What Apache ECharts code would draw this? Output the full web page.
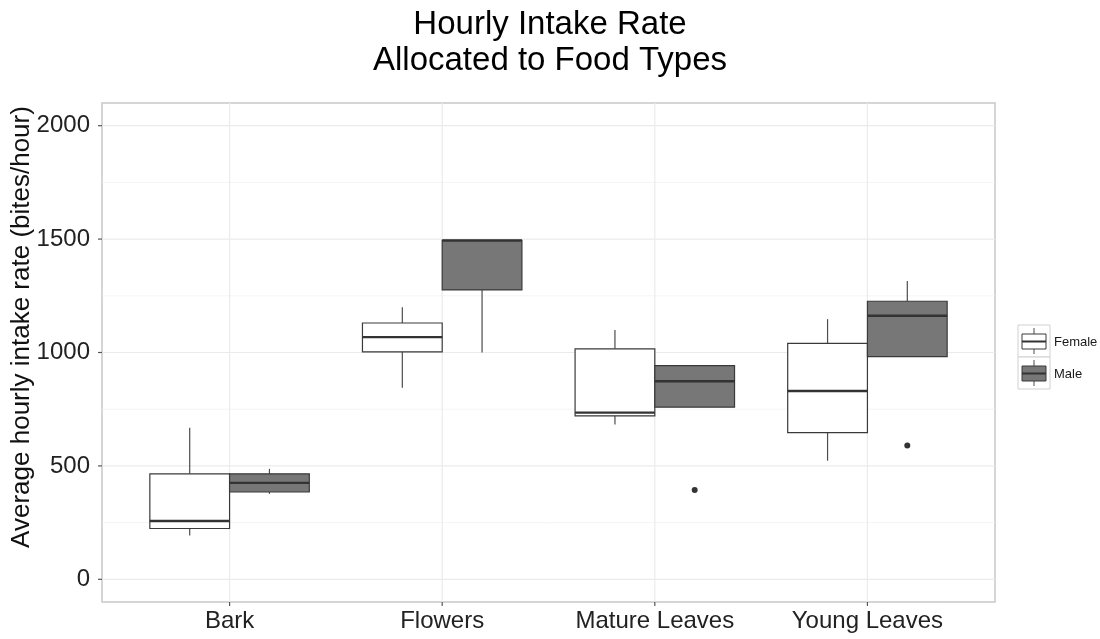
<!DOCTYPE html>
<html>
<head>
<meta charset="utf-8">
<title>Hourly Intake Rate</title>
<script src="https://cdn.jsdelivr.net/npm/echarts@6/dist/echarts.min.js"></script>
<style>
  html, body { margin: 0; padding: 0; background: #ffffff; }
  #chart { width: 1100px; height: 639px; }
</style>
</head>
<body>
<div id="chart"></div>
<script>
// Food types along the x axis (positions 1..4)
const categories = ['Bark', 'Flowers', 'Mature Leaves', 'Young Leaves'];

// Five-number summaries per food type: [lower whisker, Q1, median, Q3, upper whisker]
const femaleStats = [
  [193, 224, 257, 465, 668],
  [845, 1003, 1068, 1130, 1199],
  [683, 721, 735, 1016, 1099],
  [523, 647, 830, 1040, 1147]
];
const maleStats = [
  [377, 385, 425, 465, 487],
  [1000, 1276, 1494, 1494, 1494],
  [759, 759, 873, 942, 942],
  [982, 982, 1162, 1226, 1315]
];

// Outlying observations: [food type index, value]
const maleOutliers = [
  [2, 394],
  [3, 590]
];

// Axis ticks and grid
const yTicks = [0, 500, 1000, 1500, 2000];
const yMinorGrid = [250, 750, 1250, 1750];

const FONT = "'Liberation Sans', Arial, Helvetica, sans-serif";
const BOX_W = 0.375;          // width of one box in category units
const DODGE = BOX_W / 2;      // offset of each group from the category centre
const TICK_LEN = 4;
const TICK_STYLE = { stroke: '#555555', lineWidth: 1.2 };

function groupData(stats, shift) {
  return stats.map((s, i) => [i + 1 + shift].concat(s));
}

function renderBox(fill) {
  return function (params, api) {
    const x = api.value(0);
    const lo = api.value(1), q1 = api.value(2), med = api.value(3),
          q3 = api.value(4), hi = api.value(5);
    const half = api.size([BOX_W, 0])[0] / 2;
    const pLo = api.coord([x, lo]);
    const pQ1 = api.coord([x, q1]);
    const pMed = api.coord([x, med]);
    const pQ3 = api.coord([x, q3]);
    const pHi = api.coord([x, hi]);
    const whisk = { stroke: '#4d4d4d', lineWidth: 1.2 };
    return {
      type: 'group',
      children: [
        { type: 'line', shape: { x1: pQ3[0], y1: pQ3[1], x2: pHi[0], y2: pHi[1] }, style: whisk },
        { type: 'line', shape: { x1: pQ1[0], y1: pQ1[1], x2: pLo[0], y2: pLo[1] }, style: whisk },
        { type: 'rect',
          shape: { x: pQ3[0] - half, y: pQ3[1], width: half * 2, height: pQ1[1] - pQ3[1] },
          style: { fill: fill, stroke: '#3a3a3a', lineWidth: 1.2 } },
        { type: 'line',
          shape: { x1: pMed[0] - half, y1: pMed[1], x2: pMed[0] + half, y2: pMed[1] },
          style: { stroke: '#333333', lineWidth: 2.4 } }
      ]
    };
  };
}

// horizontal grid line across the panel, plus an outside tick for major lines
function renderHGrid(width, withTick) {
  return function (params, api) {
    const cs = params.coordSys;
    const y = api.coord([1, api.value(0)])[1];
    const children = [
      { type: 'line', shape: { x1: cs.x, y1: y, x2: cs.x + cs.width, y2: y },
        style: { stroke: width > 1 ? '#ebebeb' : '#f1f1f1', lineWidth: width } }
    ];
    if (withTick) {
      children.push({ type: 'line', shape: { x1: cs.x - TICK_LEN, y1: y, x2: cs.x, y2: y }, style: TICK_STYLE });
    }
    return { type: 'group', children: children };
  };
}

// vertical grid line at each food type, plus its outside tick
function renderVGrid(params, api) {
  const cs = params.coordSys;
  const x = api.coord([api.value(0), 0])[0];
  const bottom = cs.y + cs.height;
  return {
    type: 'group',
    children: [
      { type: 'line', shape: { x1: x, y1: cs.y, x2: x, y2: bottom },
        style: { stroke: '#ebebeb', lineWidth: 1.2 } },
      { type: 'line', shape: { x1: x, y1: bottom, x2: x, y2: bottom + TICK_LEN }, style: TICK_STYLE }
    ]
  };
}

const chart = echarts.init(document.getElementById('chart'), null, { renderer: 'canvas' });

const option = {
  backgroundColor: '#ffffff',
  animation: false,
  textStyle: { fontFamily: FONT },
  title: {
    text: 'Hourly Intake Rate\nAllocated to Food Types',
    left: 'center',
    top: 7,
    padding: 0,
    textStyle: { fontFamily: FONT, fontSize: 33, fontWeight: 'normal', color: '#000000', lineHeight: 36 }
  },
  grid: {
    left: 102, top: 103, width: 893, height: 499,
    show: true, borderColor: '#c8c8c8', borderWidth: 1.5, backgroundColor: '#ffffff'
  },
  xAxis: {
    type: 'value',
    min: 0.4, max: 4.6,
    axisLine: { show: false, onZero: false },
    splitLine: { show: false },
    axisTick: { show: false },
    axisLabel: {
      customValues: categories.map((c, i) => i + 1),
      formatter: v => categories[Math.round(v) - 1],
      fontFamily: FONT, fontSize: 24, color: '#222222', margin: 7
    }
  },
  yAxis: {
    type: 'value',
    min: -100, max: 2100,
    axisLine: { show: false, onZero: false },
    splitLine: { show: false },
    axisTick: { show: false },
    axisLabel: { customValues: yTicks, formatter: v => String(v),
                 fontFamily: FONT, fontSize: 24, color: '#222222', margin: 12 }
  },
  graphic: [
    {
      type: 'text',
      x: 22, y: 327, rotation: Math.PI / 2,
      style: { text: 'Average hourly intake rate (bites/hour)', fontFamily: FONT, fontSize: 26,
               fill: '#111111', align: 'center', verticalAlign: 'middle' }
    },
    // legend keys
    { type: 'rect', shape: { x: 1018, y: 325, width: 32, height: 32 }, style: { fill: '#ffffff', stroke: '#d0d0d0', lineWidth: 1 } },
    { type: 'rect', shape: { x: 1018, y: 357, width: 32, height: 32 }, style: { fill: '#ffffff', stroke: '#d0d0d0', lineWidth: 1 } },
    { type: 'line', shape: { x1: 1034, y1: 328, x2: 1034, y2: 354 }, style: { stroke: '#4d4d4d', lineWidth: 1 } },
    { type: 'rect', shape: { x: 1022, y: 334, width: 24, height: 15 }, style: { fill: '#ffffff', stroke: '#3a3a3a', lineWidth: 1 } },
    { type: 'line', shape: { x1: 1022, y1: 341.5, x2: 1046, y2: 341.5 }, style: { stroke: '#333333', lineWidth: 2 } },
    { type: 'line', shape: { x1: 1034, y1: 360, x2: 1034, y2: 386 }, style: { stroke: '#4d4d4d', lineWidth: 1 } },
    { type: 'rect', shape: { x: 1022, y: 366, width: 24, height: 15 }, style: { fill: '#777777', stroke: '#3a3a3a', lineWidth: 1 } },
    { type: 'line', shape: { x1: 1022, y1: 373.5, x2: 1046, y2: 373.5 }, style: { stroke: '#333333', lineWidth: 2 } },
    { type: 'text', x: 1054, y: 342, style: { text: 'Female', fontFamily: FONT, fontSize: 13, fill: '#1a1a1a', verticalAlign: 'middle' } },
    { type: 'text', x: 1054, y: 374, style: { text: 'Male', fontFamily: FONT, fontSize: 13, fill: '#1a1a1a', verticalAlign: 'middle' } }
  ],
  series: [
    { type: 'custom', name: 'minor grid', silent: true, z: 0, clip: false, renderItem: renderHGrid(0.8, false),
      data: yMinorGrid.map(v => [v]), encode: { y: 0 } },
    { type: 'custom', name: 'major grid', silent: true, z: 0, clip: false, renderItem: renderHGrid(1.2, true),
      data: yTicks.map(v => [v]), encode: { y: 0 } },
    { type: 'custom', name: 'x grid', silent: true, z: 0, clip: false, renderItem: renderVGrid,
      data: categories.map((c, i) => [i + 1]), encode: { x: 0 } },
    { type: 'custom', name: 'Female', z: 2, renderItem: renderBox('#ffffff'),
      data: groupData(femaleStats, -DODGE), encode: { x: 0, y: [1, 2, 3, 4, 5] } },
    { type: 'custom', name: 'Male', z: 2, renderItem: renderBox('#777777'),
      data: groupData(maleStats, DODGE), encode: { x: 0, y: [1, 2, 3, 4, 5] } },
    { type: 'scatter', name: 'Male outliers', z: 3, symbol: 'circle', symbolSize: 6,
      itemStyle: { color: '#000000' },
      data: maleOutliers.map(o => [o[0] + 1 + DODGE, o[1]]) }
  ]
};

chart.setOption(option);
</script>
</body>
</html>
